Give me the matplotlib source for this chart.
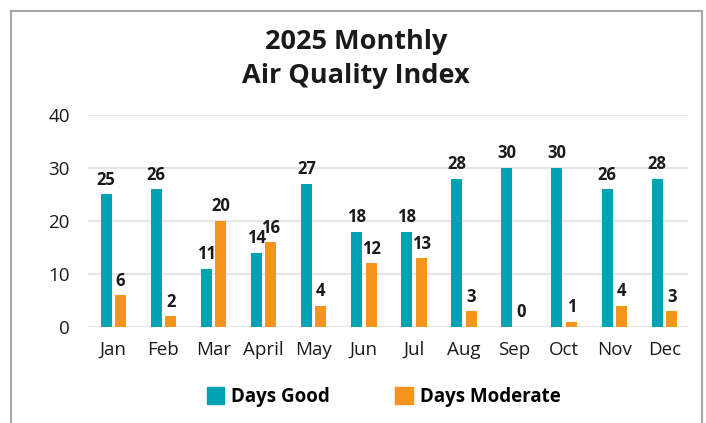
import numpy as np
import matplotlib
matplotlib.use("Agg")
import matplotlib.pyplot as plt
from matplotlib.patches import Patch, Rectangle

plt.rcParams['font.family'] = ['Open Sans', 'DejaVu Sans']

# Daten
months = ['Jan', 'Feb', 'Mar', 'April', 'May', 'Jun', 'Jul', 'Aug', 'Sep', 'Oct', 'Nov', 'Dec']
days_good = [25, 26, 11, 14, 27, 18, 18, 28, 30, 30, 26, 28]
days_moderate = [6, 2, 20, 16, 4, 12, 13, 3, 0, 1, 4, 3]
y_ticks = [0, 10, 20, 30, 40]

teal = '#00A3B4'
orange = '#F7941D'

W, H = 706, 423
fig = plt.figure(figsize=(W / 100, H / 100), dpi=100)
ax = fig.add_axes([88 / W, 1 - 327 / H, 600 / W, 212 / H])

x = np.arange(len(months))
bw = 0.22
off = 0.145
bars_good = ax.bar(x - off, days_good, width=bw, color=teal, zorder=3)
bars_mod = ax.bar(x + off, days_moderate, width=bw, color=orange, zorder=3)

# Werte ueber den Balken
for bars in (bars_good, bars_mod):
    for b in bars:
        ax.annotate(f'{int(b.get_height())}', (b.get_x() + b.get_width() / 2, b.get_height()),
                    xytext=(0, 4), textcoords='offset points', ha='center', va='bottom',
                    fontsize=12, fontweight='bold', color='#1a1a1a')

ax.set_ylim(0, 40)
ax.set_xlim(-0.505, 11.47)
ax.set_yticks(y_ticks)
ax.set_xticks(x)
ax.set_xticklabels(months)
ax.tick_params(length=0, labelsize=13.5, colors='#1a1a1a')
ax.tick_params(axis='y', pad=13)
ax.tick_params(axis='x', pad=10)
ax.yaxis.grid(True, color='#E6E6E6', lw=1.5, zorder=0)
for s in ax.spines.values():
    s.set_visible(False)

# Titel
fig.text(356 / W, 1 - 42 / H, '2025 Monthly', ha='center', va='center',
         fontsize=19.5, fontweight='bold', color='#1a1a1a')
fig.text(356 / W, 1 - 76 / H, 'Air Quality Index', ha='center', va='center',
         fontsize=19.5, fontweight='bold', color='#1a1a1a')

# Legende
handles = [Patch(color=teal, label='Days Good'), Patch(color=orange, label='Days Moderate')]
fig.legend(handles=handles, loc='center', bbox_to_anchor=(383.5 / W, 1 - 397 / H), ncol=2,
           frameon=False, prop={'size': 13.5, 'weight': 'bold'}, handlelength=0.95,
           handleheight=0.95, handletextpad=0.35, columnspacing=3.5)

# Rahmen
fig.add_artist(Rectangle((10.5 / W, -0.1), (702 - 10.5) / W, 1.1 - 11 / H,
                         transform=fig.transFigure, fill=False, ec='#A6A6A6', lw=1.5))

fig.savefig('out.png', dpi=100)
